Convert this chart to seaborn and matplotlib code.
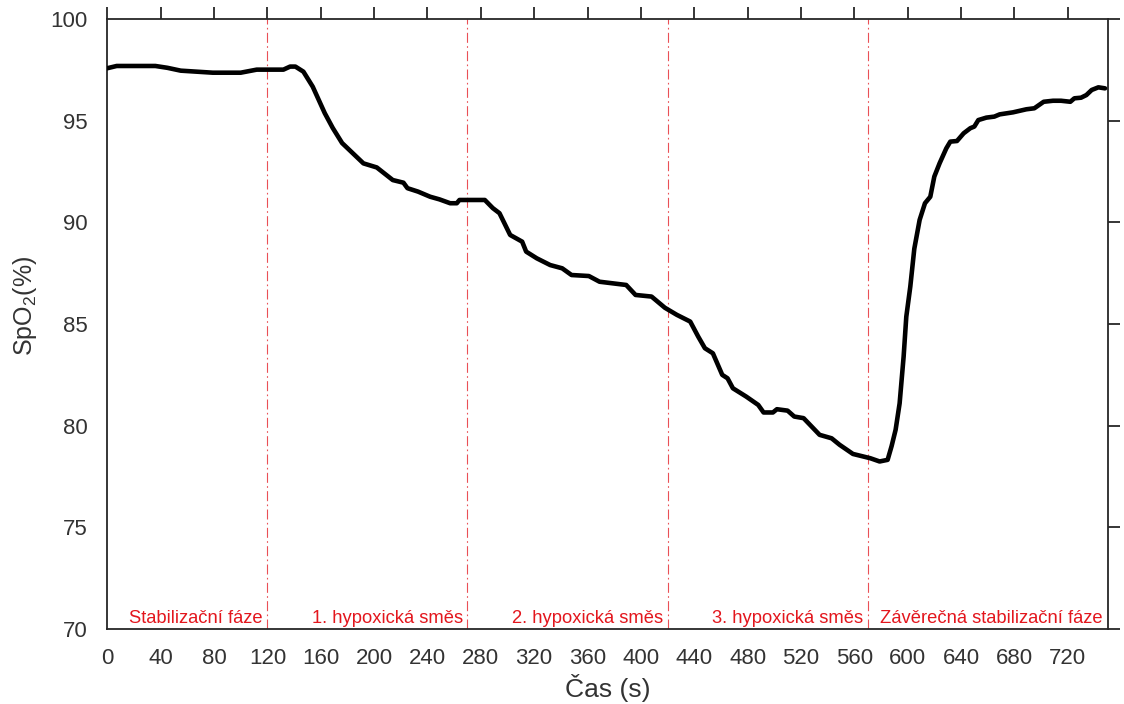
import numpy as np
import pandas as pd
import matplotlib
matplotlib.use("Agg")
import matplotlib.pyplot as plt
import seaborn as sns

# SpO2 trace over the experiment (time in s, saturation in %)
time_s = [0, 7, 36, 45, 55, 79, 100, 112, 132, 137, 141, 147, 154, 163, 169, 176,
          184, 192, 202, 214, 222, 225, 233, 242, 249, 257, 262, 264, 283, 289, 294,
          302, 311, 314, 322, 332, 341, 348, 361, 369, 389, 396, 408, 418, 427, 437,
          443, 448, 454, 461, 465, 469, 479, 488, 492, 499, 502, 510, 515, 522, 534,
          543, 549, 559, 572, 579, 585, 588, 591, 594, 597, 599, 602, 605, 609, 613,
          617, 620, 624, 629, 632, 637, 642, 647, 650, 653, 659, 665, 669, 679, 689,
          695, 702, 709, 715, 722, 725, 730, 734, 738, 743, 748]
spo2 = [97.58, 97.69, 97.69, 97.60, 97.46, 97.36, 97.36, 97.51, 97.51, 97.66, 97.66,
        97.41, 96.67, 95.37, 94.64, 93.90, 93.40, 92.90, 92.70, 92.08, 91.95, 91.68,
        91.51, 91.26, 91.13, 90.94, 90.94, 91.10, 91.10, 90.70, 90.45, 89.38, 89.05,
        88.56, 88.23, 87.90, 87.74, 87.41, 87.36, 87.08, 86.92, 86.43, 86.35, 85.80,
        85.45, 85.12, 84.38, 83.81, 83.56, 82.50, 82.33, 81.84, 81.43, 81.02, 80.65,
        80.65, 80.81, 80.74, 80.45, 80.37, 79.55, 79.38, 79.06, 78.61, 78.40, 78.24,
        78.32, 79.00, 79.80, 81.10, 83.40, 85.36, 86.84, 88.70, 90.12, 90.94, 91.26,
        92.25, 92.91, 93.64, 93.97, 94.00, 94.38, 94.63, 94.71, 95.03, 95.15, 95.20,
        95.31, 95.41, 95.56, 95.61, 95.93, 95.98, 95.98, 95.93, 96.10, 96.13, 96.26,
        96.51, 96.64, 96.59]

# phase boundaries (s) and phase names
phase_ends = [120, 270, 420, 570, 750]
phase_names = ["Stabilizační fáze", "1. hypoxická směs", "2. hypoxická směs",
               "3. hypoxická směs", "Závěrečná stabilizační fáze"]

x_ticks = list(range(0, 721, 40))
y_ticks = [70, 75, 80, 85, 90, 95, 100]

sns.set_style("white")
plt.rcParams["font.family"] = ["Liberation Sans", "DejaVu Sans"]
plt.rcParams["mathtext.fontset"] = "custom"
plt.rcParams["mathtext.rm"] = "Liberation Sans"
plt.rcParams["mathtext.it"] = "Liberation Sans"

axis_gray = "#262626"
text_gray = "#333333"
phase_red = "#e3161d"

fig = plt.figure(figsize=(11.24, 7.04), dpi=100)
ax = fig.add_axes([0.0955, 0.1065, 0.89, 0.8665])

df = pd.DataFrame({"t": time_s, "spo2": spo2})
sns.lineplot(data=df, x="t", y="spo2", ax=ax, color="black", linewidth=3.3,
             solid_joinstyle="round", solid_capstyle="round", zorder=3)

for b in phase_ends:
    ax.axvline(b, color=phase_red, linewidth=0.8, linestyle=(0, (9, 3, 1.5, 3)),
               alpha=0.75, zorder=2)

for b, name in zip(phase_ends, phase_names):
    ax.text(b - 3.5, 70.3, name, color=phase_red, fontsize=13.2,
            ha="right", va="baseline", zorder=4)

ax.set_xlim(0, 750)
ax.set_ylim(70, 100)
ax.set_xticks(x_ticks)
ax.set_yticks(y_ticks)
ax.set_xticklabels([str(v) for v in x_ticks])
ax.set_yticklabels([str(v) for v in y_ticks])

ax.tick_params(axis="both", which="major", direction="out", length=8.5, width=1.3,
               color=axis_gray, labelcolor=text_gray, labelsize=16,
               top=True, right=True, labeltop=False, labelright=False)
ax.tick_params(axis="x", pad=5)
ax.tick_params(axis="y", pad=5.5)

for side in ["left", "right", "top", "bottom"]:
    ax.spines[side].set_visible(True)
    ax.spines[side].set_color(axis_gray)
    ax.spines[side].set_linewidth(1.3)

ax.set_xlabel("Čas (s)", fontsize=19, color=text_gray, labelpad=4)
ax.set_ylabel("SpO$_2$(%)", fontsize=18, color=text_gray)
ax.yaxis.set_label_coords(-0.068, 0.53)

fig.savefig("out.png", dpi=100, facecolor="white")
